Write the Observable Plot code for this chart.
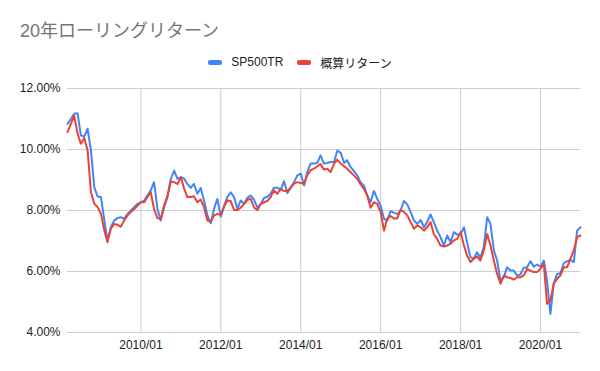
<!DOCTYPE html>
<html>
<head>
<meta charset="utf-8">
<script src="https://cdn.jsdelivr.net/npm/d3@7"></script>
<script src="https://cdn.jsdelivr.net/npm/@observablehq/plot@0.6"></script>
<style>
  html, body { margin: 0; padding: 0; background: #fff; }
  #wrap { position: relative; width: 600px; height: 371px; font-family: "Liberation Sans", Arial, "Noto Sans CJK JP", sans-serif; }
  #title { position: absolute; left: 20px; top: 20px; font-size: 18px; line-height: 22px; color: #757575; font-family: "Liberation Sans", Arial, "Noto Sans CJK JP", sans-serif; }
  #legend { position: absolute; left: 0; width: 600px; top: 54px; height: 16px; display: flex; justify-content: center; align-items: center; font-size: 12px; color: #222; }
  .item { display: flex; align-items: center; margin: 0 7px; }
  .sw { width: 14px; height: 5px; border-radius: 2px; margin-right: 9px; }
  #chart { position: absolute; left: 0; top: 75px; }
</style>
</head>
<body>
<div id="wrap">
  <div id="title">20年ローリングリターン</div>
  <div id="legend"></div>
  <div id="chart"></div>
</div>
<script>
const startMonth = "2008-03";
const seriesNames = ["SP500TR", "概算リターン"];
const seriesColors = ["#4285F4", "#EA4335"];
const yTicks = [4, 6, 8, 10, 12];
const xTickLabels = ["2010/01", "2012/01", "2014/01", "2016/01", "2018/01", "2020/01"];

const sp500tr = [
  10.84, 11.00, 11.17, 11.19, 10.46, 10.43, 10.68, 9.97, 8.76, 8.46,
  8.44, 7.67, 7.02, 7.45, 7.67, 7.75, 7.78, 7.73, 7.89, 8.00,
  8.11, 8.22, 8.27, 8.33, 8.49, 8.66, 8.93, 8.06, 7.67, 8.11,
  8.44, 9.04, 9.31, 9.04, 9.09, 9.04, 8.87, 8.74, 8.87, 8.55,
  8.74, 8.33, 7.84, 7.58, 8.06, 8.38, 7.80, 8.16, 8.44, 8.60,
  8.44, 8.05, 8.33, 8.22, 8.42, 8.49, 8.35, 8.09, 8.22, 8.42,
  8.44, 8.55, 8.75, 8.75, 8.68, 8.96, 8.57, 8.75, 8.93, 9.15,
  9.21, 8.82, 9.26, 9.54, 9.54, 9.56, 9.81, 9.54, 9.56, 9.59,
  9.59, 9.96, 9.89, 9.56, 9.65, 9.43, 9.30, 9.15, 8.93, 8.82,
  8.49, 8.27, 8.64, 8.38, 8.16, 7.73, 7.67, 7.98, 7.93, 7.88,
  8.00, 8.31, 8.20, 7.95, 7.67, 7.56, 7.69, 7.45, 7.62, 7.87,
  7.62, 7.34, 7.13, 6.85, 7.18, 6.96, 7.29, 7.21, 7.21, 7.45,
  6.96, 6.47, 6.42, 6.63, 6.45, 6.80, 7.78, 7.56, 6.69, 6.36,
  5.70, 5.81, 6.14, 6.03, 6.03, 5.87, 5.90, 6.12, 6.14, 6.34,
  6.16, 6.23, 6.16, 6.36, 5.70, 4.61, 5.60, 5.92, 5.94, 6.27,
  6.34, 6.38, 6.31, 7.34, 7.45
];
const approxReturn = [
  10.57, 10.84, 11.11, 10.52, 10.19, 10.38, 9.97, 8.60, 8.22, 8.11,
  7.89, 7.34, 6.96, 7.40, 7.56, 7.53, 7.47, 7.67, 7.84, 7.95,
  8.05, 8.16, 8.27, 8.27, 8.44, 8.60, 8.05, 7.75, 7.72, 8.16,
  8.49, 8.95, 8.93, 8.87, 9.09, 8.71, 8.44, 8.44, 8.47, 8.27,
  8.36, 8.11, 7.67, 7.64, 7.84, 7.89, 7.85, 8.13, 8.33, 8.31,
  8.02, 8.02, 8.09, 8.22, 8.35, 8.38, 8.09, 8.02, 8.22, 8.27,
  8.31, 8.44, 8.66, 8.55, 8.71, 8.64, 8.64, 8.75, 8.88, 8.93,
  8.90, 8.88, 9.15, 9.32, 9.37, 9.45, 9.52, 9.34, 9.37, 9.26,
  9.54, 9.67, 9.54, 9.45, 9.37, 9.26, 9.15, 9.04, 8.86, 8.71,
  8.49, 8.09, 8.27, 8.22, 7.95, 7.34, 7.73, 7.82, 7.74, 7.74,
  8.02, 7.95, 7.84, 7.62, 7.40, 7.51, 7.45, 7.34, 7.45, 7.62,
  7.23, 7.07, 6.85, 6.82, 6.85, 6.91, 7.02, 7.07, 7.29, 6.85,
  6.52, 6.31, 6.42, 6.49, 6.36, 6.69, 7.23, 6.85, 6.36, 5.92,
  5.60, 5.87, 5.81, 5.79, 5.73, 5.81, 5.81, 5.87, 6.09, 6.03,
  5.98, 5.98, 6.09, 6.25, 4.94, 5.05, 5.60, 5.76, 5.87, 6.14,
  6.14, 6.42, 6.69, 7.13, 7.18
];

const parseMonth = d3.utcParse("%Y-%m");
const parseTick = d3.utcParse("%Y/%m");
const start = parseMonth(startMonth);
const months = sp500tr.map((_, i) => d3.utcMonth.offset(start, i));
const rows = [];
[sp500tr, approxReturn].forEach((arr, s) => arr.forEach((v, i) => rows.push({date: months[i], value: v, series: seriesNames[s]})));
const xTicks = xTickLabels.map(parseTick);

// legend
const legend = document.getElementById("legend");
seriesNames.forEach((n, i) => {
  const it = document.createElement("div"); it.className = "item";
  const sw = document.createElement("div"); sw.className = "sw"; sw.style.background = seriesColors[i];
  const tx = document.createElement("span"); tx.textContent = n;
  it.appendChild(sw); it.appendChild(tx); legend.appendChild(it);
});

const chart = Plot.plot({
  width: 600,
  height: 296,
  marginTop: 13,
  marginBottom: 39,
  marginLeft: 67,
  marginRight: 20,
  style: {fontFamily: '"Liberation Sans", Arial, "Noto Sans CJK JP", sans-serif', fontSize: "12px", color: "#222", background: "transparent"},
  x: {type: "utc", domain: [months[0], months[months.length - 1]], ticks: xTicks, tickFormat: d3.utcFormat("%Y/%m"), tickSize: 0, tickPadding: 8, label: null},
  y: {domain: [4, 12], ticks: yTicks, tickFormat: d => d.toFixed(2) + "%", tickSize: 0, tickPadding: 7, label: null},
  color: {domain: seriesNames, range: seriesColors},
  marks: [
    Plot.ruleX(xTicks, {stroke: "#cccccc", strokeWidth: 1, strokeOpacity: 1}),
    Plot.ruleY(yTicks, {stroke: "#cccccc", strokeWidth: 1, strokeOpacity: 1}),
    Plot.lineY(rows, {x: "date", y: "value", z: "series", stroke: "series", strokeWidth: 2, curve: "linear"})
  ]
});
document.getElementById("chart").appendChild(chart);
</script>
</body>
</html>
